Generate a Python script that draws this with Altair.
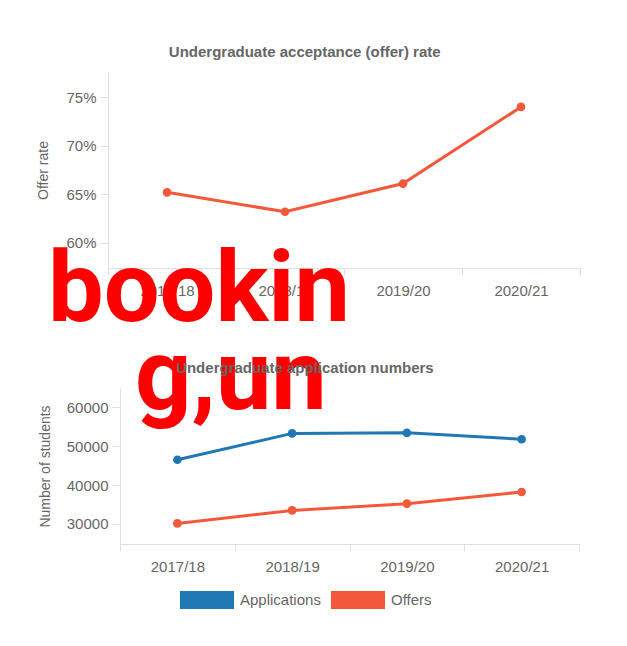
import altair as alt
import pandas as pd

years = ["2017/18", "2018/19", "2019/20", "2020/21"]
offer_rate = [65.2, 63.2, 66.1, 74.0]
applications = [46500, 53300, 53450, 51800]
offers = [30100, 33450, 35200, 38200]
series_names = ["Applications", "Offers"]
series_colors = ["#1f77b4", "#f4583a"]
rate_ticks = [60, 65, 70, 75]
count_ticks = [30000, 40000, 50000, 60000]
overlay_lines = ["bookin", "g,un"]

FONT = "Liberation Sans"
GREY = "#666666"
AXIS_GREY = "#e0e0e0"

rate_df = pd.DataFrame({"year": years, "rate": offer_rate})
count_df = pd.DataFrame({
    "year": years * 2,
    "value": applications + offers,
    "series": [series_names[0]] * 4 + [series_names[1]] * 4,
})

x_axis = dict(
    title=None, labelAngle=0, labelFont=FONT, labelFontSize=15, labelColor=GREY,
    domainColor=AXIS_GREY, tickColor=AXIS_GREY, tickSize=7, tickBand="extent",
    labelPadding=8, grid=False,
)

# ---- top chart
top_x = alt.X("year:N", sort=years,
              scale=alt.Scale(type="band", paddingInner=0, paddingOuter=0),
              axis=alt.Axis(**x_axis))
top_y = alt.Y("rate:Q",
              scale=alt.Scale(domain=[57.4, 77.6], nice=False, zero=False),
              axis=alt.Axis(title="Offer rate", values=rate_ticks,
                            labelExpr="datum.value + '%'", grid=False,
                            labelFont=FONT, labelFontSize=15, labelColor=GREY,
                            titleFont=FONT, titleFontSize=14, titleColor=GREY,
                            titleFontWeight="normal", titlePadding=15,
                            domainColor=AXIS_GREY, tickColor=AXIS_GREY,
                            tickSize=8, labelPadding=4))
top_line = alt.Chart(rate_df).mark_line(
    color=series_colors[1], strokeWidth=3,
    point=alt.OverlayMarkDef(filled=True, size=75, color=series_colors[1]),
).encode(x=top_x, y=top_y)

wm_df = pd.DataFrame({"t": overlay_lines, "row": [0, 1]})
wm1 = alt.Chart(wm_df).transform_filter("datum.row == 0").mark_text(
    font="Roboto", fontWeight="bold", fontSize=99, color="#ff0000",
    align="left", baseline="alphabetic",
).encode(text="t:N", x=alt.value(-60), y=alt.value(249))
wm2 = alt.Chart(wm_df).transform_filter("datum.row == 1").mark_text(
    font="Roboto", fontWeight="bold", fontSize=99, color="#ff0000",
    align="left", baseline="alphabetic",
).encode(text="t:N", x=alt.value(27), y=alt.value(337))

top = alt.layer(top_line, wm1, wm2).properties(
    width=472, height=196,
    title=alt.TitleParams("Undergraduate acceptance (offer) rate", font=FONT,
                          fontSize=15, fontWeight="bold", color=GREY,
                          anchor="middle", frame="bounds", offset=12, dx=-4),
)

# ---- bottom chart
bot_x = alt.X("year:N", sort=years,
              scale=alt.Scale(type="band", paddingInner=0, paddingOuter=0,
                              range=[12, 471]),
              axis=alt.Axis(**x_axis))
bot_y = alt.Y("value:Q",
              scale=alt.Scale(domain=[24800, 65000], nice=False, zero=False),
              axis=alt.Axis(title="Number of students", values=count_ticks,
                            format="d", grid=False, offset=-12,
                            labelFont=FONT, labelFontSize=15, labelColor=GREY,
                            titleFont=FONT, titleFontSize=14, titleColor=GREY,
                            titleFontWeight="normal", titlePadding=14,
                            domainColor=AXIS_GREY, tickColor=AXIS_GREY,
                            tickSize=8, labelPadding=4))
color = alt.Color("series:N",
                  scale=alt.Scale(domain=series_names, range=series_colors),
                  legend=alt.Legend(
                      title=None, orient="none", direction="horizontal",
                      legendX=90, legendY=519,
                      symbolType="M-3,-1L3,-1L3,1L-3,1Z",
                      symbolSize=324, symbolStrokeWidth=0,
                      labelFont=FONT, labelFontSize=15, labelColor=GREY,
                      labelOffset=24, columnPadding=10))
bottom = alt.Chart(count_df).mark_line(
    strokeWidth=3, point=alt.OverlayMarkDef(filled=True, size=75),
).encode(x=bot_x, y=bot_y, color=color).properties(
    width=471, height=156,
    title=alt.TitleParams("Undergraduate application numbers", font=FONT,
                          fontSize=15, fontWeight="bold", color=GREY,
                          anchor="middle", frame="bounds", offset=12, dx=-4),
)

chart = alt.vconcat(top, bottom, spacing=120, bounds="flush").properties(
    padding={"left": 28, "top": 37, "right": 10, "bottom": 10},
).configure_view(stroke=None).configure_point(size=75)

chart.save("out.html", embed_options={"renderer": "svg", "actions": False})
